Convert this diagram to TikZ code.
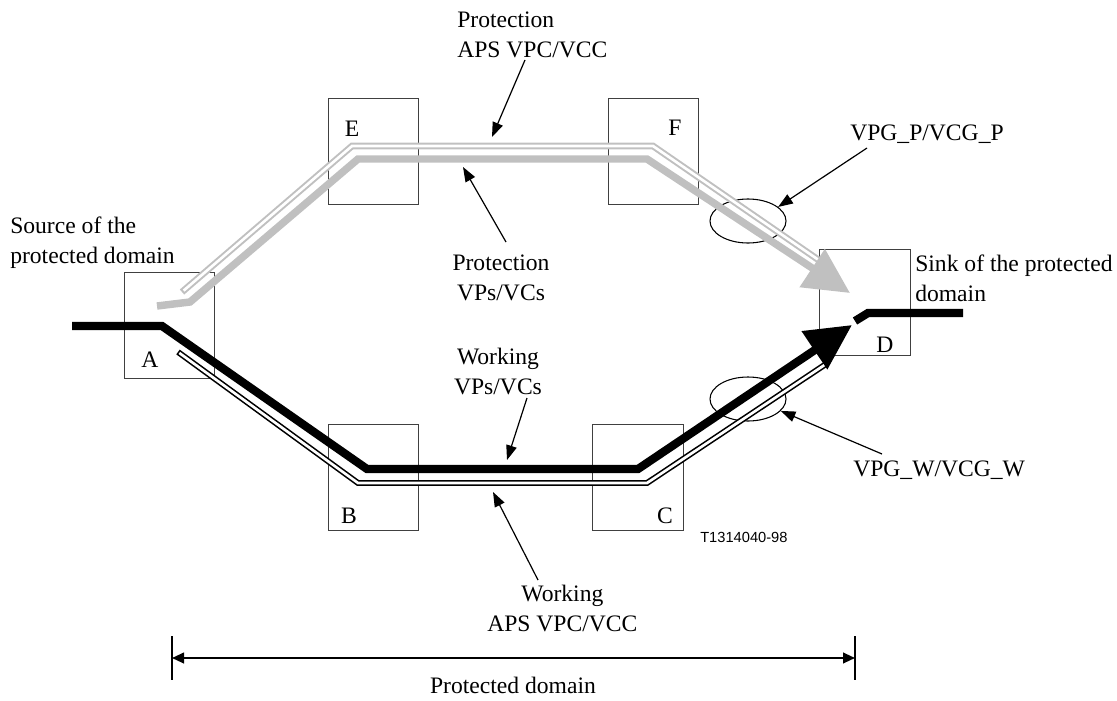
\documentclass[tikz,border=0pt]{standalone}
\usepackage{fontspec}
\setmainfont{Liberation Serif}
\newfontfamily\tagfont{Liberation Sans}
\usetikzlibrary{positioning,arrows.meta,shapes.geometric}
\definecolor{cgray}{HTML}{C0C0C0}
\definecolor{cbox}{HTML}{404040}
\tikzset{
  nebox/.style={draw=cbox, line width=0.7pt, minimum width=68pt, minimum height=79.5pt, inner sep=0pt},
  boxlab/.style={inner sep=0pt, font=\fontsize{17.7}{22.5}\selectfont},
  txt/.style={inner sep=0pt, font=\fontsize{17.7}{22.5}\selectfont},
  grp/.style={draw, ellipse, line width=0.8pt, minimum width=57pt, minimum height=33pt, inner sep=0pt},
  work/.style={line width=6.2pt, black},
  workout/.style={line width=4.4pt, black},
  workin/.style={line width=2pt, white},
  prot/.style={line width=5.6pt, cgray},
  protout/.style={line width=5pt, cgray},
  protin/.style={line width=2pt, white},
  bigtip/.style={-{Triangle[length=34pt,width=33pt]}},
  callout/.style={-{Triangle[length=11pt,width=8pt]}, line width=0.9pt},
}
\begin{document}
\begin{tikzpicture}[x=0.75pt, y=-0.75pt]
    \useasboundingbox (0,0) rectangle (1117,700);
    % network elements
    \node[nebox] (A) at (169.5,325) {};
    \node[nebox] (E) at (373.5,151) {};
    \node[nebox] (F) at (653.5,151) {};
    \node[nebox] (B) at (373.5,477) {};
    \node[nebox] (C) at (638,477) {};
    \node[nebox] (D) at (865,302.5) {};
    \node[boxlab] (Alab) at (150,360) {A};
    \node[boxlab] (Elab) at (352,129) {E};
    \node[boxlab] (Flab) at (675,128) {F};
    \node[boxlab] (Blab) at (349,516) {B};
    \node[boxlab] (Clab) at (665,516) {C};
    \node[boxlab] (Dlab) at (885,345) {D};
    % groups
    \node[grp] (gp) at (748,221) {};
    \node[grp] (gw) at (748,399) {};
    % path corners
    \coordinate (p0) at (182,292); \coordinate (p1) at (352,146);
    \coordinate (p2) at (653,146); \coordinate (p3) at (823,263);
    \coordinate (g0) at (157,306); \coordinate (g1) at (190,302);
    \coordinate (g2) at (358,159); \coordinate (g3) at (647,159);
    \coordinate (g4) at (850,293);
    \coordinate (h0) at (178,352); \coordinate (h1) at (358,483);
    \coordinate (h2) at (647,483); \coordinate (h3) at (826,364);
    \coordinate (w0) at (72,326);  \coordinate (w1) at (162,326);
    \coordinate (w2) at (367,469); \coordinate (w3) at (638,469);
    \coordinate (w4) at (852,325);
    \coordinate (d0) at (855,321); \coordinate (d1) at (868,313);
    \coordinate (d2) at (963,313);
    % protection path
    \draw[protout] (p0) -- (p1) -- (p2) -- (p3);
    \draw[protin, shorten <=1.6pt] (p0) -- (p1) -- (p2) -- (p3);
    \draw[prot, bigtip] (g0) -- (g1) -- (g2) -- (g3) -- (g4);
    % working path
    \draw[workout] (h0) -- (h1) -- (h2) -- (h3);
    \draw[workin, shorten <=1.2pt] (h0) -- (h1) -- (h2) -- (h3);
    \draw[work, bigtip] (w0) -- (w1) -- (w2) -- (w3) -- (w4);
    \draw[work] (d0) -- (d1) -- (d2);
    % labels
    \node[txt, anchor=west, align=left] (protaps) at (457,35) {Protection\\APS VPC/VCC};
    \node[txt, align=center] (protvp) at (501,278) {Protection\\VPs/VCs};
    \node[txt, anchor=west, align=left] (src) at (10,243) {Source of the\\protected domain};
    \node[txt, anchor=west, align=left] (snk) at (915,278) {Sink of the protected\\domain};
    \node[txt, align=center] (workvp) at (498,371) {Working\\VPs/VCs};
    \node[txt, anchor=west, align=center] (workaps) at (487,608) {Working\\APS VPC/VCC};
    \node[txt, anchor=west] (vpgp) at (850,134) {VPG\_P/VCG\_P};
    \node[txt, anchor=west] (vpgw) at (853,470) {VPG\_W/VCG\_W};
    \node[inner sep=0pt, anchor=west, font=\tagfont\fontsize{11}{13}\selectfont] (tag) at (700,537) {T1314040-98};
    % callouts
    \coordinate (c1) at (525,60);  \coordinate (t1) at (492,137);
    \coordinate (c2) at (506,242); \coordinate (t2) at (463,167);
    \coordinate (c3) at (527,398); \coordinate (t3) at (507,460);
    \coordinate (c4) at (538,580); \coordinate (t4) at (493,492);
    \coordinate (c5) at (867,148);
    \coordinate (c6) at (882,454);
    \draw[callout] (c1) -- (t1);
    \draw[callout] (c2) -- (t2);
    \draw[callout] (c3) -- (t3);
    \draw[callout] (c4) -- (t4);
    \draw[callout] (c5) -- (gp.25);
    \draw[callout] (c6) -- (gw.-20);
    % protected domain
    \coordinate (dl) at (172,658); \coordinate (dr) at (855,658);
    \draw[line width=0.8pt] (172,636) -- (172,680);
    \draw[line width=0.8pt] (855,636) -- (855,680);
    \draw[{Triangle[length=9pt,width=8pt]}-{Triangle[length=9pt,width=8pt]}, line width=1.5pt] (dl) -- (dr);
    \node[txt] (dom) at (513,685) {Protected domain};
\end{tikzpicture}
\end{document}
